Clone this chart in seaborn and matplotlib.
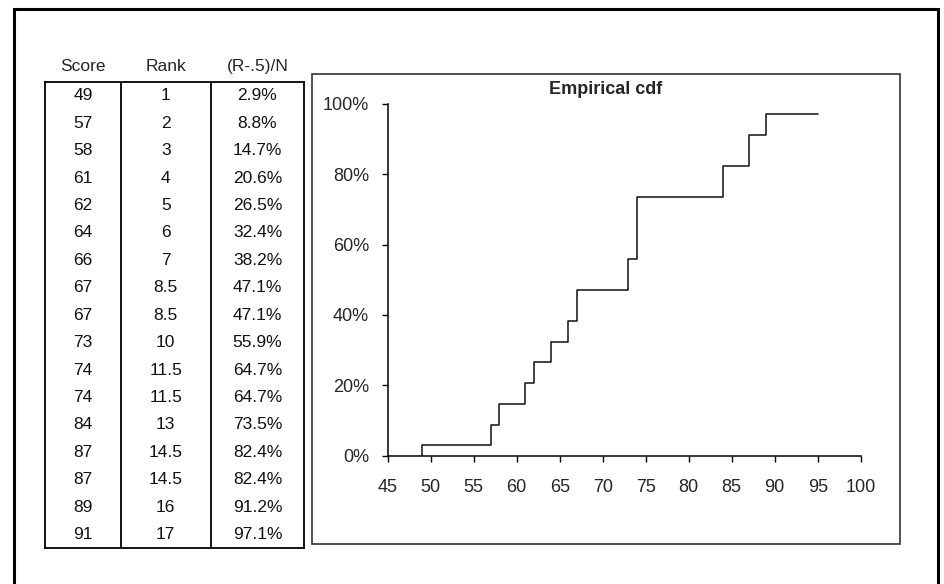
import matplotlib
matplotlib.use("Agg")
import matplotlib.pyplot as plt
from matplotlib.patches import Rectangle
from matplotlib.ticker import PercentFormatter, MultipleLocator
import seaborn as sns

# données du tableau
scores = [49, 57, 58, 61, 62, 64, 66, 67, 67, 73, 74, 74, 84, 87, 87, 89, 91]
rangs = ["1", "2", "3", "4", "5", "6", "7", "8.5", "8.5", "10", "11.5", "11.5",
         "13", "14.5", "14.5", "16", "17"]
pct = ["2.9%", "8.8%", "14.7%", "20.6%", "26.5%", "32.4%", "38.2%", "47.1%",
       "47.1%", "55.9%", "64.7%", "64.7%", "73.5%", "82.4%", "82.4%", "91.2%",
       "97.1%"]
entetes = ["Score", "Rank", "(R-.5)/N"]

# marches de la courbe
cdf_x = [49, 57, 58, 61, 62, 64, 66, 67, 73, 74, 84, 87, 89, 95]
cdf_y = [0, 2.9, 8.8, 14.7, 20.6, 26.5, 32.4, 38.2, 47.1, 55.9, 73.5, 82.4, 91.2, 97.1]

sns.set_theme(style="ticks")
plt.rcParams["font.family"] = ["Liberation Sans", "DejaVu Sans"]

W, H = 945, 584
fig = plt.figure(figsize=(W / 100, H / 100), dpi=100)
fig.patch.set_facecolor("white")

# cadre extérieur
fig.patches.append(Rectangle((14 / W, -0.02), 924 / W, 1 - 9 / H + 0.02,
                             transform=fig.transFigure, fill=False,
                             edgecolor="black", linewidth=2.2))
# cadre du graphique
fig.patches.append(Rectangle((311.7 / W, 1 - 544 / H), 588.3 / W, 469.7 / H,
                             transform=fig.transFigure, fill=False,
                             edgecolor="#333333", linewidth=1.2))

# tableau
tab = fig.add_axes([45 / W, 1 - 548.3 / H, 259.3 / W, 466.3 / H])
tab.set_xlim(0, 1)
tab.set_ylim(len(scores), 0)
tab.set_xticks([])
tab.set_yticks([])
for s in tab.spines.values():
    s.set_linewidth(1.3)
    s.set_color("black")
bords = [0, 0.292, 0.639, 1]
for b in bords[1:-1]:
    tab.axvline(b, color="black", linewidth=1.3)
centres = [(bords[i] + bords[i + 1]) / 2 for i in range(3)]
for j, txt in enumerate(entetes):
    tab.text(centres[j], -0.55, txt, ha="center", va="center", fontsize=12.5,
             clip_on=False)
for i in range(len(scores)):
    for j, val in enumerate([str(scores[i]), rangs[i], pct[i]]):
        tab.text(centres[j], i + 0.5, val, ha="center", va="center",
                 fontsize=12.5, color="#111111")

# graphique cdf
ax = fig.add_axes([387.7 / W, 1 - 455.7 / H, 473 / W, 351.8 / H])
sns.lineplot(x=cdf_x, y=cdf_y, ax=ax, drawstyle="steps-pre", color="#111111",
             linewidth=1.1, estimator=None, sort=False)
ax.set_xlim(45, 100)
ax.set_ylim(0, 100)
ax.xaxis.set_major_locator(MultipleLocator(5))
ax.yaxis.set_major_locator(MultipleLocator(20))
ax.yaxis.set_major_formatter(PercentFormatter(xmax=100, decimals=0))
ax.tick_params(axis="both", direction="out", length=4.5, width=1,
               color="black", labelsize=13)
ax.tick_params(axis="y", pad=9)
ax.tick_params(axis="x", pad=12)
sns.despine(ax=ax)
for s in ["left", "bottom"]:
    ax.spines[s].set_linewidth(1.1)
    ax.spines[s].set_color("black")
ax.patch.set_alpha(0)

fig.text(605.9 / W, 1 - 89 / H, "Empirical cdf", ha="center", va="center",
         fontsize=13, fontweight="bold")

fig.savefig("out.png", dpi=100)
